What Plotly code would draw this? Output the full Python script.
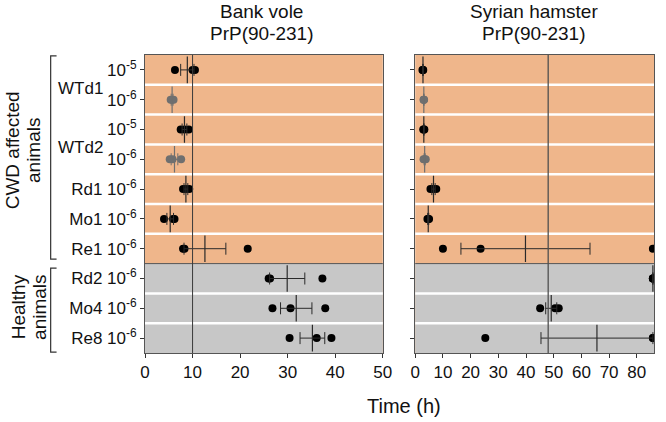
import plotly.graph_objects as go

# ---------------- data ----------------
samples = ["WTd1", "WTd1", "WTd2", "WTd2", "Rd1", "Mo1", "Re1", "Rd2", "Mo4", "Re8"]
dilutions = ["10<sup>-5</sup>", "10<sup>-6</sup>", "10<sup>-5</sup>", "10<sup>-6</sup>",
             "10<sup>-6</sup>", "10<sup>-6</sup>", "10<sup>-6</sup>", "10<sup>-6</sup>",
             "10<sup>-6</sup>", "10<sup>-6</sup>"]
gray_rows = [1, 3]          # rows drawn in gray (10^-6 of WTd1 / WTd2)
healthy_rows = [7, 8, 9]

# Bank vole PrP(90-231): individual lag times (h), mean and error
bv_points = [[6.3, 10.0, 10.5], [5.4, 5.7, 6.0], [7.5, 8.3, 9.2], [5.2, 5.8, 7.6],
             [8.0, 8.6, 9.3], [4.0, 5.9, 6.2], [8.0, 8.3, 21.6], [26.0, 26.3, 37.3],
             [26.8, 30.6, 37.9], [30.4, 36.1, 39.2]]
bv_mean = [8.9, 5.7, 8.3, 6.2, 8.6, 5.3, 12.6, 29.9, 31.8, 35.2]
bv_err = [1.4, 0.2, 0.5, 0.7, 0.4, 0.7, 4.4, 3.7, 3.3, 2.6]

# Syrian hamster PrP(90-231)
sh_points = [[2.6, 2.8, 2.9], [3.0, 3.1, 3.2], [2.9, 3.1, 3.3], [3.0, 3.4, 3.8],
             [5.5, 6.5, 7.6], [4.4, 4.7, 5.0], [10.0, 23.6, 85.8], [85.8, 85.8, 85.8],
             [45.1, 50.5, 51.8], [25.3, 85.8, 85.8]]
sh_mean = [2.8, 3.1, 3.1, 3.4, 6.6, 4.7, 39.8, 85.8, 49.1, 65.6]
sh_err = [0.1, 0.1, 0.1, 0.2, 0.6, 0.2, 23.3, 0.0, 2.0, 20.2]

bv_threshold = 10
sh_threshold = 48

# ---------------- styling ----------------
FONT = "Liberation Sans, Arial, sans-serif"
ORANGE = "#EFB68B"
GRAY_BG = "#C7C7C7"
BLACK = "#000000"
GRAYPT = "#6F6F6F"

# target plot area in window pixels (body margin removed by post_script)
PL, PR, PT, PB = 145, 663, 55, 353
W, H = PR - PL, PB - PT


def wx(p):
    return (p - PL) / W


def wy(p):
    return (PB - p) / H


fig = go.Figure()


def add_panel(points, means, errs, xa, ya):
    for i, pts in enumerate(points):
        col = GRAYPT if i in gray_rows else BLACK
        ecol = GRAYPT if i in gray_rows else "#2a2a2a"
        fig.add_trace(go.Scatter(
            x=pts, y=[i] * len(pts), mode="markers", xaxis=xa, yaxis=ya,
            marker=dict(color=col, size=8, line=dict(width=0)),
            showlegend=False, hoverinfo="x"))
        fig.add_trace(go.Scatter(
            x=[means[i]], y=[i], mode="markers", xaxis=xa, yaxis=ya,
            marker=dict(symbol="line-ns", size=19, line=dict(color=ecol, width=1.2)),
            error_x=dict(type="data", array=[errs[i]], color=ecol, thickness=1, width=6),
            showlegend=False, hoverinfo="x"))


add_panel(bv_points, bv_mean, bv_err, "x", "y")
add_panel(sh_points, sh_mean, sh_err, "x2", "y2")

shapes = []
for xr, yr in (("x domain", "y"), ("x2 domain", "y2")):
    shapes.append(dict(type="rect", xref=xr, yref=yr, x0=0, x1=1,
                       y0=min(healthy_rows) - 0.5, y1=max(healthy_rows) + 0.5,
                       fillcolor=GRAY_BG, line=dict(width=0), layer="below"))
    for k in range(len(samples) - 1):
        if k + 1 == min(healthy_rows):
            shapes.append(dict(type="line", xref=xr, yref=yr, x0=0, x1=1,
                               y0=k + 0.5, y1=k + 0.5,
                               line=dict(color="#555555", width=1), layer="below"))
        else:
            shapes.append(dict(type="line", xref=xr, yref=yr, x0=0, x1=1,
                               y0=k + 0.5, y1=k + 0.5,
                               line=dict(color="white", width=2.5), layer="below"))

shapes.append(dict(type="line", xref="x", yref="y domain", x0=bv_threshold, x1=bv_threshold,
                   y0=0, y1=1, line=dict(color="#3a3a3a", width=1)))
shapes.append(dict(type="line", xref="x2", yref="y2 domain", x0=sh_threshold, x1=sh_threshold,
                   y0=0, y1=1, line=dict(color="#505050", width=1.3)))

# brackets
for y0, y1 in ((-0.47, 6.35), (6.65, 9.47)):
    shapes.append(dict(type="path", xref="paper", yref="y",
                       path=f"M {wx(55)},{y0} L {wx(49)},{y0} L {wx(49)},{y1} L {wx(55)},{y1}",
                       line=dict(color="#333333", width=1.2)))


def ann(text, x, y, size, **kw):
    d = dict(text=text, x=wx(x), y=wy(y), xref="paper", yref="paper",
             showarrow=False, xanchor="center", yanchor="middle", font=dict(size=size))
    d.update(kw)
    return d


annotations = [
    ann("WTd1", 104, 88, 17, xanchor="right"),
    ann("WTd2", 104, 147, 17, xanchor="right"),
    ann("CWD affected", 10, 150, 19, textangle=-90),
    ann("animals", 31, 150, 19, textangle=-90),
    ann("Healthy", 16, 307, 19, textangle=-90),
    ann("animals", 37, 307, 19, textangle=-90),
    ann("Bank vole", 264, 11, 19),
    ann("PrP(90-231)", 264, 33, 19),
    ann("Syrian hamster", 541, 11, 19),
    ann("PrP(90-231)", 541, 33, 19),
    ann("Time (h)", 409, 406, 20),
]

ticktext = [d if s.startswith("WTd") else f"{s} {d}" for s, d in zip(samples, dilutions)]

axis_common = dict(showline=True, linecolor="#555555", linewidth=1, mirror=True,
                   showgrid=False, zeroline=False, ticks="outside", ticklen=4,
                   tickcolor="#333333", tickfont=dict(size=17))

fig.update_layout(
    width=666, height=422,
    margin=dict(l=PL, r=666 - PR, t=PT, b=422 - PB),
    paper_bgcolor="white", plot_bgcolor=ORANGE,
    font=dict(family=FONT, color="#111111", size=17),
    xaxis=dict(domain=[0, wx(387)], range=[0, 50], tickvals=[0, 10, 20, 30, 40, 50],
               anchor="y", **axis_common),
    xaxis2=dict(domain=[wx(420), 1], range=[0, 86.2],
                tickvals=[0, 10, 20, 30, 40, 50, 60, 70, 80], anchor="y2", **axis_common),
    yaxis=dict(range=[9.5, -0.5], tickvals=list(range(len(samples))), ticktext=ticktext,
               anchor="x", **axis_common),
    yaxis2=dict(range=[9.5, -0.5], tickvals=list(range(len(samples))), showticklabels=False,
                anchor="x2", **axis_common),
    shapes=shapes, annotations=annotations,
)

fig.write_html("out.html", config={"displayModeBar": False},
               post_script="document.body.style.margin='0px';document.body.style.overflow='hidden';")
